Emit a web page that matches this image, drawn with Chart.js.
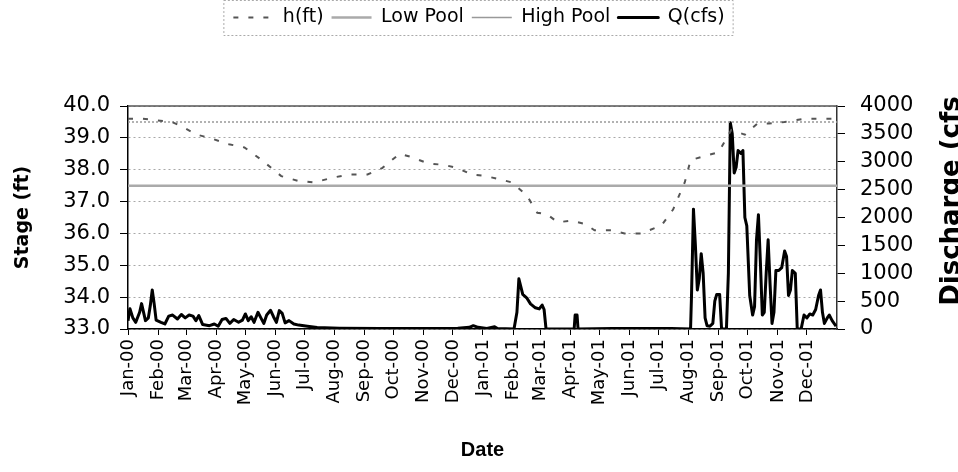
<!DOCTYPE html>
<html>
<head>
<meta charset="utf-8">
<script src="https://cdn.jsdelivr.net/npm/chart.js@4.4.1/dist/chart.umd.min.js"></script>
<style>
    html, body { margin: 0; padding: 0; background: #fff; }
    #wrap { width: 958px; height: 472px; }
</style>
</head>
<body>
<div id="wrap"><canvas id="c" width="958" height="472"></canvas></div>
<script>
// x values are days since 1 Jan 2000
const monthLabels = ['Jan-00', 'Feb-00', 'Mar-00', 'Apr-00', 'May-00', 'Jun-00', 'Jul-00', 'Aug-00', 'Sep-00', 'Oct-00', 'Nov-00', 'Dec-00',
    'Jan-01', 'Feb-01', 'Mar-01', 'Apr-01', 'May-01', 'Jun-01', 'Jul-01', 'Aug-01', 'Sep-01', 'Oct-01', 'Nov-01', 'Dec-01'];
const lastDay = 731;

// stage readings h(ft)
const hDays = [0, 15, 30, 45, 56, 71, 84, 104, 120, 138, 158, 175, 192, 211, 228, 247, 262, 280, 292, 309, 326, 340, 354, 369, 383, 396,
    411, 422, 432, 443, 457, 471, 481, 498, 512, 529, 550, 562, 574, 580, 591, 609, 622, 636, 649, 661, 677, 698, 718, 730];
const hFt = [39.6, 39.6, 39.55, 39.5, 39.35, 39.1, 39.0, 38.8, 38.7, 38.3, 37.8, 37.65, 37.6, 37.75, 37.85, 37.85, 38.05, 38.5, 38.4, 38.2,
    38.15, 38.05, 37.85, 37.8, 37.7, 37.6, 37.2, 36.65, 36.6, 36.35, 36.4, 36.3, 36.1, 36.1, 36.0, 36.0, 36.25, 36.75, 37.6, 38.3, 38.4,
    38.55, 39.25, 39.1, 39.45, 39.45, 39.5, 39.6, 39.6, 39.6];

// discharge Q(cfs)
const qDays = [0, 2, 5, 8, 12, 14, 18, 21, 23, 25, 27, 29, 34, 38, 42, 46, 51, 55, 59, 63, 67, 70, 73, 77, 84, 89, 93, 97, 101, 105, 109,
    114, 118, 121, 124, 127, 130, 134, 137, 140, 143, 147, 150, 153, 156, 159, 162, 166, 171, 176, 185, 195, 218, 260, 300, 340, 352, 356,
    361, 370, 378, 381, 398, 401, 403, 407, 411, 415, 420, 424, 427, 429, 431, 460, 461, 463, 464, 500, 560, 580,
    581, 583, 585, 587, 589, 591, 593, 595, 597, 600, 603, 605, 607, 610, 612, 617, 619, 621, 623, 625, 627, 629, 632, 634, 636, 638, 641,
    644, 646, 648, 650, 652, 654, 656, 658, 660, 662, 664, 666, 668, 671, 674, 677, 679, 681, 683, 685, 688, 690, 694, 697, 700, 703, 706,
    709, 712, 714, 716, 718, 721, 723, 726, 730];
const qCfs = [150, 365, 200, 120, 300, 455, 150, 200, 420, 700, 450, 160, 120, 90, 230, 250, 180, 260, 200, 250, 230, 150, 240, 80, 60, 90,
    50, 170, 190, 100, 170, 120, 160, 270, 150, 220, 120, 300, 200, 100, 250, 335, 220, 120, 330, 280, 110, 150, 90, 70, 50, 25, 15, 10, 10,
    15, 30, 60, 30, 10, 40, 10, 0, 300, 900, 620, 560, 450, 380, 360, 430, 350, 0, 0, 250, 250, 0, 10, 10, 0,
    600, 2150, 1500, 700, 900, 1350, 1000, 200, 60, 50, 100, 500, 620, 620, 0, 0, 1000, 3700, 3500, 2800, 2900, 3200, 3150, 3200, 2000, 1850,
    600, 250, 400, 1600, 2050, 1200, 250, 300, 1000, 1600, 800, 100, 300, 1050, 1050, 1100, 1400, 1300, 600, 700, 1050, 1000, 0, 0, 250,
    200, 270, 250, 350, 600, 700, 300, 100, 200, 250, 150, 50];

const lowPool = 37.5;
const highPool = 39.5;

const monthStarts = monthLabels.map((_, i) => Math.round((Date.UTC(2000, i, 1) - Date.UTC(2000, 0, 1)) / 864e5));
const pts = (xs, ys) => xs.map((x, i) => ({ x, y: ys[i] }));

const FONT = 'DejaVu Sans';

// extra room under the legend, plot top border, legend frame, right title
const legendSpace = {
    id: 'legendSpace',
    beforeInit(chart) {
        const fit = chart.legend.fit;
        chart.legend.fit = function () { fit.call(this); this.height = 106; };
    },
};
const frame = {
    id: 'frame',
    afterDraw(chart) {
        const { ctx, chartArea: a, legend } = chart;
        ctx.save();
        ctx.strokeStyle = '#555';
        ctx.lineWidth = 1.5;
        ctx.beginPath(); ctx.moveTo(a.left, a.top); ctx.lineTo(a.right, a.top); ctx.stroke();

        const hb = legend.legendHitBoxes;
        if (hb && hb.length) {
            const l = Math.min(...hb.map((b) => b.left)) - 10;
            const r = Math.max(...hb.map((b) => b.left + b.width)) + 8;
            const t = Math.min(...hb.map((b) => b.top)) - 8;
            const btm = Math.max(...hb.map((b) => b.top + b.height)) + 8;
            ctx.strokeStyle = '#aaa';
            ctx.lineWidth = 1;
            ctx.setLineDash([2, 2]);
            ctx.strokeRect(l + 0.5, t + 0.5, r - l, btm - t);
            ctx.setLineDash([]);
        }

        ctx.translate(959, 201);
        ctx.rotate(-Math.PI / 2);
        ctx.font = 'bold 26px "DejaVu Sans"';
        ctx.fillStyle = '#000';
        ctx.textAlign = 'center';
        ctx.textBaseline = 'alphabetic';
        ctx.fillText('Discharge (cfs', 0, 0);
        ctx.restore();
    },
};

new Chart(document.getElementById('c'), {
    type: 'line',
    data: {
        datasets: [
            { label: 'h(ft)', data: pts(hDays, hFt), yAxisID: 'y', borderColor: '#555', backgroundColor: 'transparent', borderWidth: 2, borderDash: [5, 10], pointRadius: 0 },
            { label: 'Low Pool', data: pts([0, lastDay], [lowPool, lowPool]), yAxisID: 'y', borderColor: '#aaa', backgroundColor: 'transparent', borderWidth: 2.5, pointRadius: 0 },
            { label: 'High Pool', data: pts([0, lastDay], [highPool, highPool]), yAxisID: 'y', borderColor: '#999', backgroundColor: 'transparent', borderWidth: 1.5, borderDash: [2, 2], pointRadius: 0 },
            { label: 'Q(cfs)', data: pts(qDays, qCfs), yAxisID: 'y2', borderColor: '#000', backgroundColor: 'transparent', borderWidth: 3, pointRadius: 0, borderJoinStyle: 'round' },
        ],
    },
    options: {
        responsive: false,
        animation: false,
        layout: { padding: 0 },
        plugins: {
            legend: {
                position: 'top',
                labels: { boxWidth: 40, boxHeight: 0, padding: 8, color: '#000', font: { family: FONT, size: 19 } },
            },
            tooltip: { enabled: false },
        },
        scales: {
            x: {
                type: 'linear', min: 0, max: lastDay,
                afterBuildTicks: (s) => { s.ticks = monthStarts.map((v) => ({ value: v })); },
                afterFit: (s) => { s.height = 143; },
                ticks: { autoSkip: false, minRotation: 90, maxRotation: 90, padding: 4, color: '#000', font: { family: FONT, size: 18 }, callback: (v, i) => monthLabels[i] },
                grid: { drawOnChartArea: false, tickLength: 6, color: '#000' },
                border: { color: '#000', width: 1.5 },
                title: { display: true, text: 'Date', color: '#000', font: { family: 'Liberation Sans', size: 20, weight: 'bold' }, padding: { top: 0, bottom: 10 } },
            },
            y: {
                position: 'left', min: 33, max: 40,
                afterFit: (s) => { s.width = 128; },
                ticks: { stepSize: 1, autoSkip: false, padding: 10, color: '#000', font: { family: FONT, size: 21 }, callback: (v) => v.toFixed(1) },
                grid: { color: '#a8a8a8', tickLength: 8, tickColor: '#000' },
                border: { color: '#000', width: 1.5, dash: [2, 3] },
                title: { display: true, text: 'Stage (ft)', color: '#000', font: { family: FONT, size: 19, weight: 'bold' }, padding: { top: 12, bottom: 0 } },
            },
            y2: {
                position: 'right', min: 0, max: 4000,
                afterFit: (s) => { s.width = 121; },
                ticks: { stepSize: 500, autoSkip: false, padding: 15, color: '#000', font: { family: FONT, size: 21 }, callback: (v) => String(v) },
                grid: { drawOnChartArea: false, tickLength: 8, color: '#000' },
                border: { color: '#333', width: 1.5 },
            },
        },
    },
    plugins: [legendSpace, frame],
});
</script>
</body>
</html>
